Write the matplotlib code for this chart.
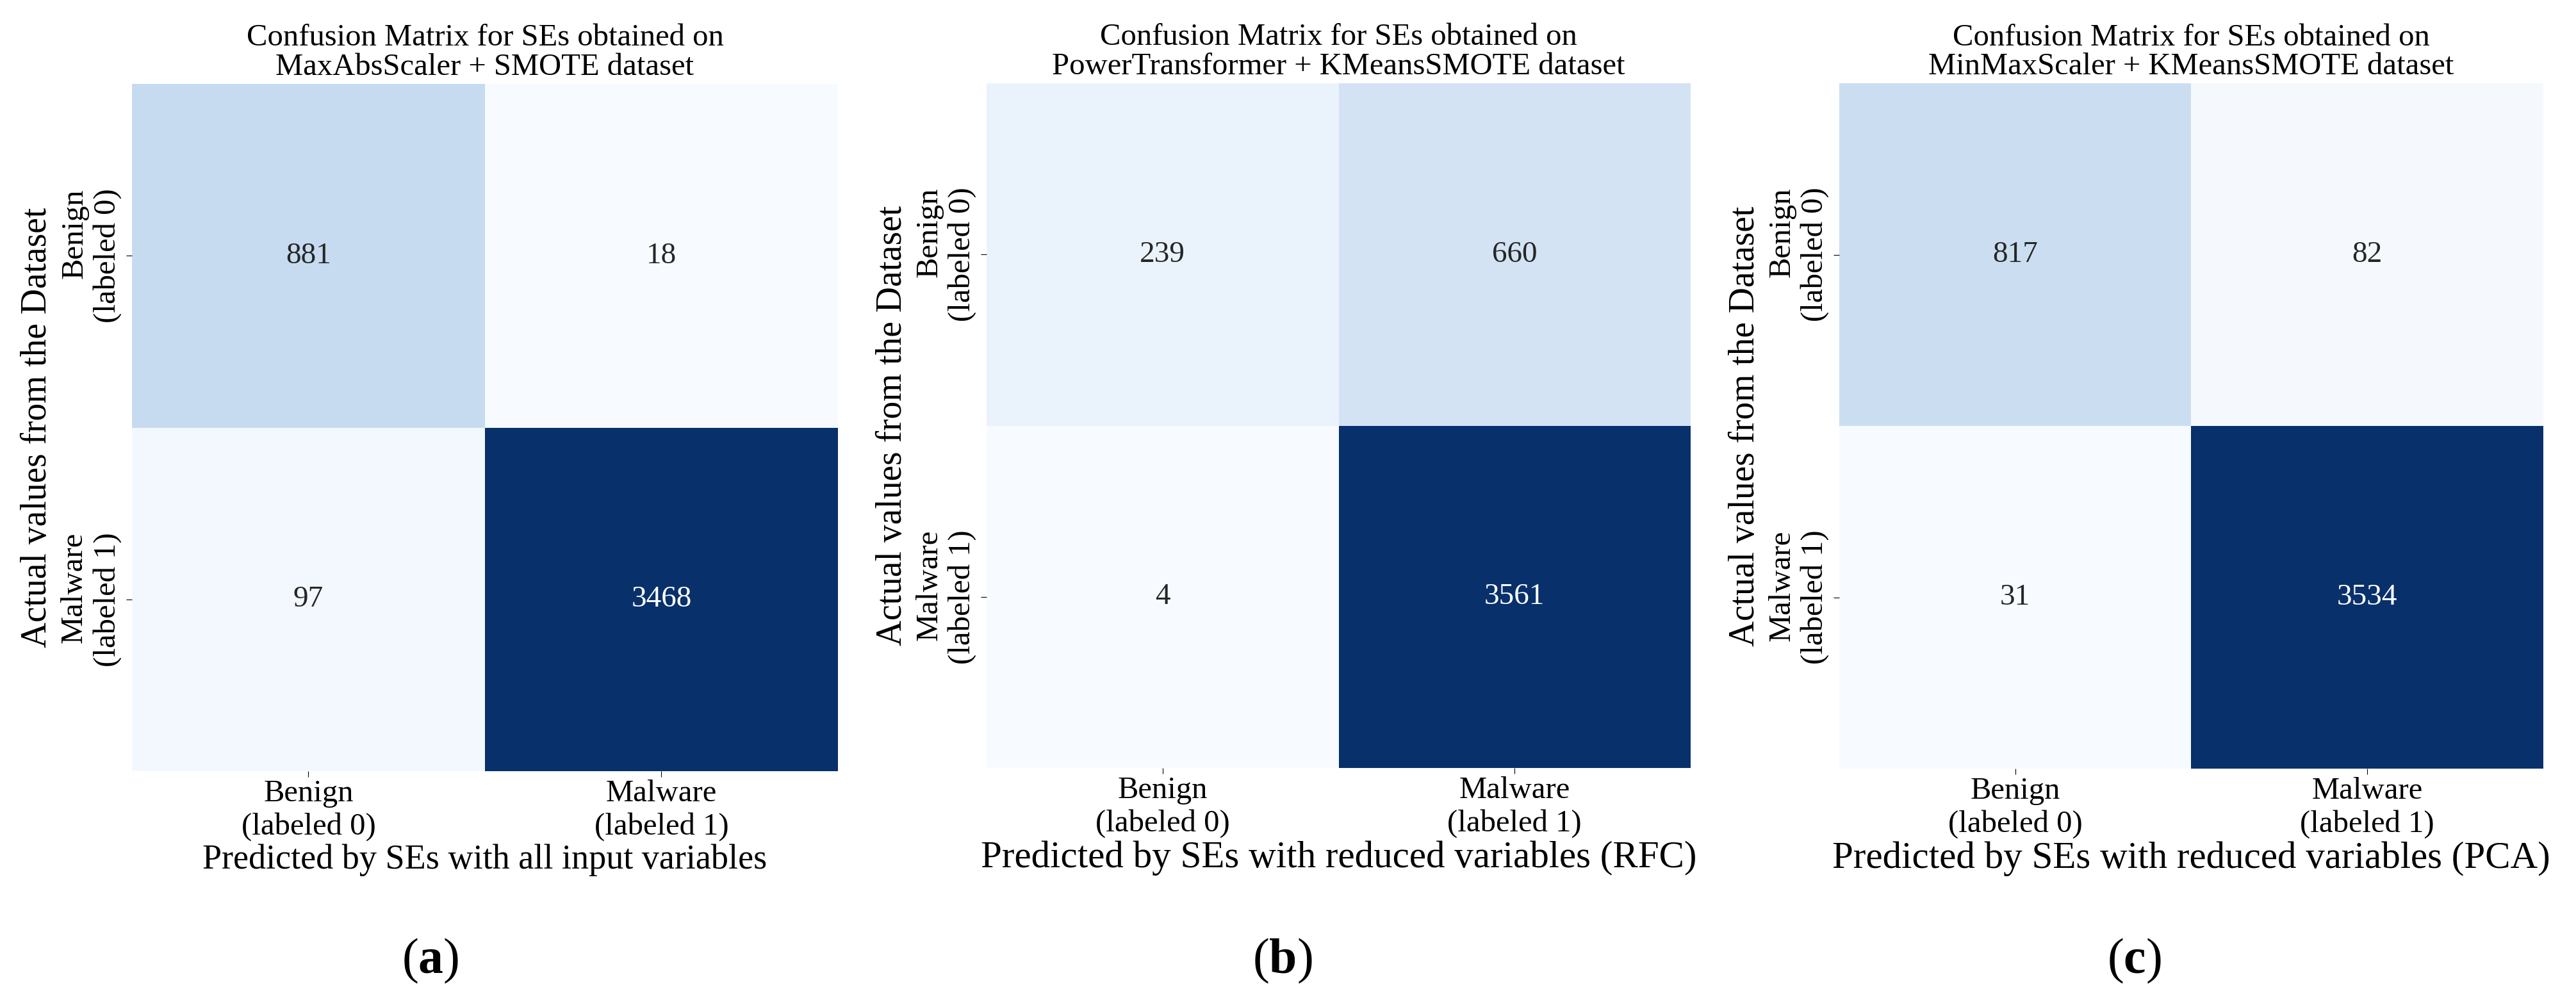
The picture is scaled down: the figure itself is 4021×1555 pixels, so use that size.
import matplotlib
matplotlib.use('Agg')
import matplotlib.pyplot as plt
import seaborn as sns
import numpy as np

# confusion matrices (rows: actual, cols: predicted)
cm_all = [[881, 18], [97, 3468]]
cm_rfc = [[239, 660], [4, 3561]]
cm_pca = [[817, 82], [31, 3534]]

class_labels = ['Benign\n(labeled 0)', 'Malware\n(labeled 1)']
titles = ['Confusion Matrix for SEs obtained on\nMaxAbsScaler + SMOTE dataset',
          'Confusion Matrix for SEs obtained on\nPowerTransformer + KMeansSMOTE dataset',
          'Confusion Matrix for SEs obtained on\nMinMaxScaler + KMeansSMOTE dataset']
xlabels = ['Predicted by SEs with all input variables',
           'Predicted by SEs with reduced variables (RFC)',
           'Predicted by SEs with reduced variables (PCA)']
ylabel = 'Actual values from the Dataset'
panel_tags = ['a', 'b', 'c']

plt.rcParams['font.family'] = ['Liberation Serif', 'DejaVu Serif']
plt.rcParams['mathtext.fontset'] = 'custom'
plt.rcParams['mathtext.rm'] = 'Liberation Serif'
plt.rcParams['mathtext.bf'] = 'Liberation Serif:bold'

fig = plt.figure(figsize=(40.21, 15.55), dpi=100)

rects = [[0.0512, 0.2257, 0.2741, 0.690],
         [0.3830, 0.2289, 0.2733, 0.6875],
         [0.7140, 0.2283, 0.2733, 0.688]]
xlab_size = [39, 42.5, 42.5]
tag_x = [0.1671, 0.4979, 0.8286]

for i, cm in enumerate([cm_all, cm_rfc, cm_pca]):
    ax = fig.add_axes(rects[i])
    sns.heatmap(np.array(cm), annot=True, fmt='d', cmap='Blues', cbar=False,
                xticklabels=class_labels, yticklabels=class_labels,
                annot_kws={'size': 34}, ax=ax)
    ax.set_title(titles[i], fontsize=35, linespacing=1.05, pad=10)
    ax.set_xlabel(xlabels[i], fontsize=xlab_size[i], labelpad=3)
    ax.set_ylabel(ylabel, fontsize=40, labelpad=7)
    ax.tick_params(axis='both', labelsize=35, length=6.5, width=0.8)
    ax.tick_params(axis='y', pad=5)
    ax.tick_params(axis='x', pad=3)
    # sub-figure tag, bold letter in plain parentheses
    fig.text(tag_x[i], 0.035, r'($\mathbf{%s}$)' % panel_tags[i],
             fontsize=56, ha='center', va='center')

fig.savefig('out.png', dpi=100)
